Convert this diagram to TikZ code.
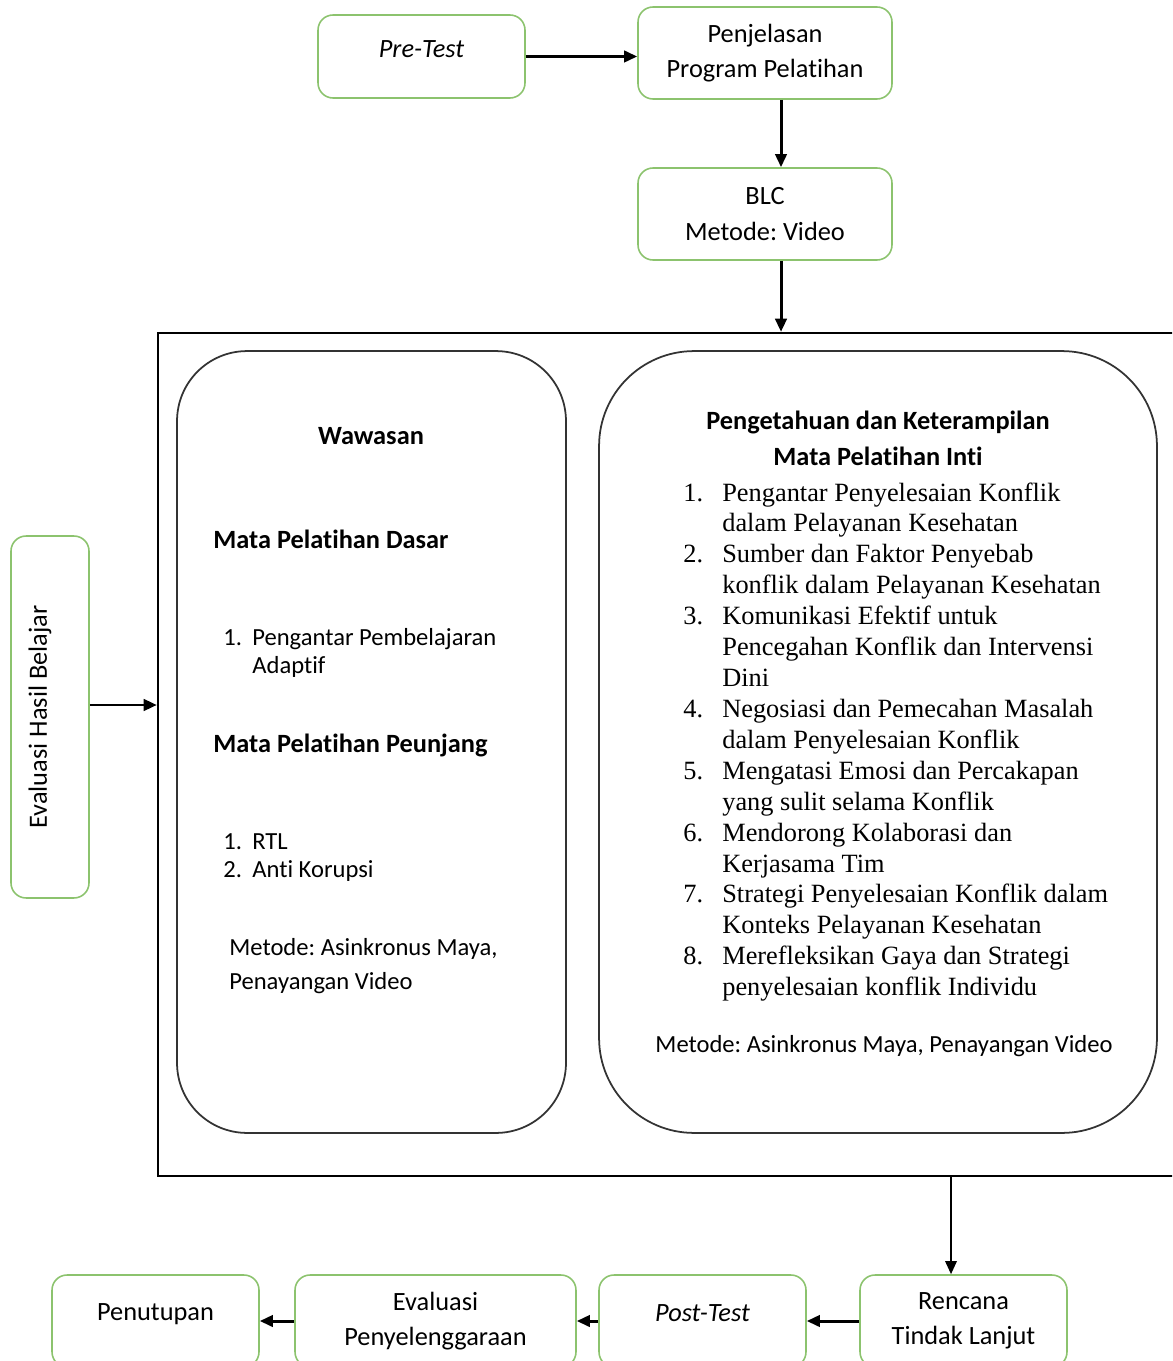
\documentclass[tikz,border=0pt]{standalone}
\usepackage{fontspec}
\setmainfont{Carlito}[Ligatures=NoCommon]
\newfontfamily\seriffont{Liberation Serif}
\usetikzlibrary{arrows.meta}
\definecolor{boxgreen}{RGB}{140,195,110}
\frenchspacing

\begin{document}
\begin{tikzpicture}[x=0.02cm, y=-0.02cm,
  greenbox/.style={draw=boxgreen, line width=0.9pt, rounded corners=0.3cm,
    align=center, font=\fontsize{15}{20}\selectfont, inner sep=2pt},
  roundbox/.style={draw=black!80, line width=1pt},
  arrow/.style={line width=1.7pt, -{Triangle[length=7.5pt, width=6.5pt]}},
  heading/.style={font=\fontsize{15}{20}\selectfont\bfseries, inner sep=0pt},
  bodytext/.style={font=\fontsize{14}{16}\selectfont, inner sep=0pt, anchor=base west},
  listitem/.style={font=\seriffont\fontsize{15}{17.6}\selectfont, inner sep=0pt, anchor=base west}]
  \useasboundingbox (0,0) rectangle (1172,1361);
  \clip (0,0) rectangle (1172,1361);

  % top row
  \node[greenbox, minimum width=4.14cm, minimum height=1.66cm, text depth=9pt] (pre) at (421.5,56.5) {\textit{Pre-Test}};
  \node[greenbox, minimum width=5.08cm, minimum height=1.84cm] (penj) at (765,53) {Penjelasan\\Program Pelatihan};
  \node[greenbox, minimum width=5.08cm, minimum height=1.84cm] (blc) at (765,214) {BLC\\Metode: Video};

  % main frame
  \node[draw, line width=1.4pt, minimum width=20.64cm, minimum height=16.86cm] (frame) at (674,754.5) {};
  \node[roundbox, rounded corners=1.4cm, minimum width=7.78cm, minimum height=15.64cm] (wawasan) at (371.5,742) {};
  \node[roundbox, rounded corners=1.9cm, minimum width=11.16cm, minimum height=15.64cm] (inti) at (878,742) {};
  \node[greenbox, rotate=90, minimum width=7.24cm, minimum height=1.56cm, text depth=14pt] (ehb) at (50,717) {Evaluasi Hasil Belajar};

  % left box
  \node[heading] (ww) at (371,436) {Wawasan};
  \node[heading, anchor=base west] (mpd) at (213,548) {Mata Pelatihan Dasar};
  \node[bodytext] (dasar) at (223,645) {\begin{tabular}[t]{@{}p{0.58cm}@{}l@{}}1. & Pengantar Pembelajaran\\ & Adaptif\end{tabular}};
  \node[heading, anchor=base west] (mpp) at (213,752) {Mata Pelatihan Peunjang};
  \node[bodytext] (penunjang) at (223,849) {\begin{tabular}[t]{@{}p{0.58cm}@{}l@{}}1. & RTL\\ 2. & Anti Korupsi\end{tabular}};
  \node[bodytext, font=\fontsize{14}{19.5}\selectfont] (metodel) at (229,955) {\begin{tabular}[t]{@{}l@{}}Metode: Asinkronus Maya,\\Penayangan Video\end{tabular}};

  % right box
  \node[heading, anchor=base] (pk) at (878,429) {Pengetahuan dan Keterampilan};
  \node[heading, anchor=base] (mpi) at (878,465) {Mata Pelatihan Inti};
  \node[listitem] (intilist) at (683,501) {\begin{tabular}[t]{@{}p{0.78cm}@{}l@{}}
    1. & Pengantar Penyelesaian Konflik\\
       & dalam Pelayanan Kesehatan\\
    2. & Sumber dan Faktor Penyebab\\
       & konflik dalam Pelayanan Kesehatan\\
    3. & Komunikasi Efektif untuk\\
       & Pencegahan Konflik dan Intervensi\\
       & Dini\\
    4. & Negosiasi dan Pemecahan Masalah\\
       & dalam Penyelesaian Konflik\\
    5. & Mengatasi Emosi dan Percakapan\\
       & yang sulit selama Konflik\\
    6. & Mendorong Kolaborasi dan\\
       & Kerjasama Tim\\
    7. & Strategi Penyelesaian Konflik dalam\\
       & Konteks Pelayanan Kesehatan\\
    8. & Merefleksikan Gaya dan Strategi\\
       & penyelesaian konflik Individu
  \end{tabular}};
  \node[bodytext, anchor=base] (metoder) at (884,1052) {Metode: Asinkronus Maya, Penayangan Video};

  % bottom row
  \node[greenbox, minimum width=4.14cm, minimum height=1.84cm, text depth=10pt] (tutup) at (155.5,1321) {Penutupan};
  \node[greenbox, minimum width=5.62cm, minimum height=1.84cm] (evp) at (435.5,1321) {Evaluasi\\Penyelenggaraan};
  \node[greenbox, minimum width=4.14cm, minimum height=1.84cm, text depth=9pt] (post) at (702.5,1321) {\textit{Post-Test}};
  \node[greenbox, minimum width=4.14cm, minimum height=1.84cm] (rtl) at (963.5,1321) {Rencana\\Tindak Lanjut};

  % connectors
  \coordinate (ax) at (781,0);
  \coordinate (ey) at (0,705);
  \coordinate (bx) at (951,0);
  \draw[arrow] (pre.east) -- (penj.west |- pre.east);
  \draw[arrow] (penj.south -| ax) -- (blc.north -| ax);
  \draw[arrow] (blc.south -| ax) -- (frame.north -| ax);
  \draw[arrow] (ehb.south |- ey) -- (frame.west |- ey);
  \draw[arrow, line width=1.2pt] (frame.south -| bx) -- (rtl.north -| bx);
  \draw[arrow] (rtl) -- (post);
  \draw[arrow] (post) -- (evp);
  \draw[arrow] (evp) -- (tutup);
\end{tikzpicture}
\end{document}
